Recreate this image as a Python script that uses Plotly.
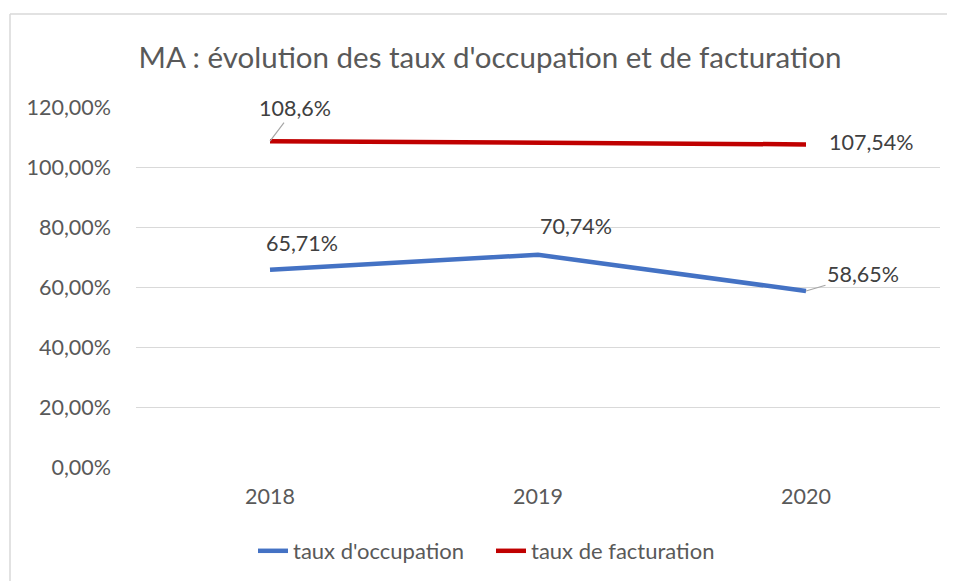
'''
    Line chart: MA occupation and billing rates, 2018-2020.
'''
import plotly.graph_objects as go

years = ['2018', '2019', '2020']
occupation = [65.71, 70.74, 58.65]
facturation = [108.6, 108.0, 107.54]
occupation_labels = ['65,71%', '70,74%', '58,65%']
facturation_labels = ['108,6%', None, '107,54%']

FONT = 'Lato'
TEXT_COLOR = '#595959'
LABEL_COLOR = '#404040'
BLUE = '#4472C4'
RED = '#C00000'

# the page has an 8px body margin, so the figure is a bit smaller
OFF = 8
W, H = 955 - OFF, 581 - OFF
L, R, T, B = 136 - OFF, 15, 107 - OFF, 114


def px_to_paper(x, y):
    '''Convert page pixel position to paper coordinates.'''
    pw = W - L - R
    ph = H - T - B
    return (x - OFF - L) / pw, (H - B - (y - OFF)) / ph


fig = go.Figure()
fig.add_trace(go.Scatter(
    x=years, y=[v / 100 for v in occupation], mode='lines',
    name="taux d'occupation",
    line=dict(color=BLUE, width=4.5),
))
fig.add_trace(go.Scatter(
    x=years, y=[v / 100 for v in facturation], mode='lines',
    name='taux de facturation',
    line=dict(color=RED, width=4.5),
))

# data labels (offsets in pixels), x as category index
occ_offsets = [(32, 27, False), (38, 29, False), (57, 17, True)]
fac_offsets = [(25, 33, True), None, (65, 2, False)]
labels = []
for i, (v, lab, off) in enumerate(zip(occupation, occupation_labels, occ_offsets)):
    labels.append((i, v, lab, off))
for i, (v, lab, off) in enumerate(zip(facturation, facturation_labels, fac_offsets)):
    if lab is not None:
        labels.append((i, v, lab, off))

for i, v, lab, (dx, dy, arrow) in labels:
    label_font = dict(family=FONT, size=21.5, color=LABEL_COLOR)
    if arrow:
        fig.add_annotation(
            x=i, y=v / 100, text=lab, showarrow=True, arrowhead=0,
            arrowwidth=1.2, arrowcolor='#A6A6A6', ax=dx, ay=-dy,
            font=label_font,
        )
    else:
        fig.add_annotation(
            x=i, y=v / 100, text=lab, showarrow=False,
            xshift=dx, yshift=dy, font=label_font,
        )

# chart border (only top and left edges are visible)
x0, y0 = px_to_paper(10, 14)
x1, y1 = px_to_paper(955, 590)
fig.add_shape(type='line', xref='paper', yref='paper', x0=x0, y0=y0, x1=x1, y1=y0,
              line=dict(color='#D9D9D9', width=1.5))
fig.add_shape(type='line', xref='paper', yref='paper', x0=x0, y0=y0, x1=x0, y1=y1,
              line=dict(color='#D9D9D9', width=1.5))

fig.update_layout(
    width=W, height=H,
    margin=dict(l=L, r=R, t=T, b=B),
    paper_bgcolor='white', plot_bgcolor='white',
    separators=', ',
    font=dict(family=FONT, color=TEXT_COLOR),
    title=dict(
        text="MA : évolution des taux d'occupation et de facturation",
        x=(490 - OFF) / W, xanchor='center', xref='container',
        y=1 - (58 - OFF) / H, yanchor='middle', yref='container',
        font=dict(family=FONT, size=29.5, color=TEXT_COLOR),
    ),
    legend=dict(
        orientation='h', x=(253 - OFF) / W, xref='container', xanchor='left',
        y=1 - (551 - OFF) / H, yref='container', yanchor='middle',
        entrywidth=193,
        font=dict(family=FONT, size=22, color=TEXT_COLOR),
    ),
    showlegend=True,
)

fig.update_xaxes(
    type='category', range=[-0.5, 2.5], showgrid=False, showline=False,
    ticks='', ticklabelstandoff=14,
    tickfont=dict(family=FONT, size=21.5, color=TEXT_COLOR),
)
fig.update_yaxes(
    range=[0, 1.2], dtick=0.2, tickformat='.2%',
    showgrid=True, gridcolor='#D9D9D9', gridwidth=1,
    zeroline=False, showline=False, ticks='', ticklabelstandoff=24,
    tickfont=dict(family=FONT, size=21.5, color=TEXT_COLOR),
)

fig.write_html('out.html')
